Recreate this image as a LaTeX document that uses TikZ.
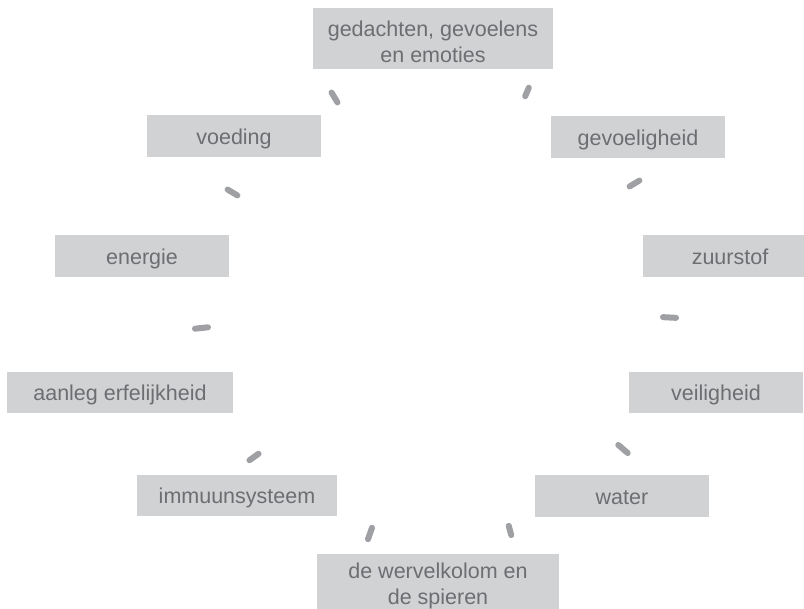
\documentclass[tikz,border=0pt]{standalone}
\usepackage{fontspec}
\setmainfont{Liberation Sans}
\definecolor{boxfill}{HTML}{D1D2D4}
\definecolor{boxtext}{HTML}{6D6E71}
\definecolor{dashcol}{HTML}{9FA0A3}
\begin{document}
\begin{tikzpicture}[x=1pt,y=-1pt,
  box/.style={fill=boxfill,text=boxtext,inner sep=0pt,align=center,
    font=\fontsize{21.5}{25.8}\selectfont,minimum height=42pt,
    text height=17pt,text depth=0pt},
  twoline/.style={minimum height=61pt,text height=47.4pt,text depth=0pt},
  gap/.style={draw=dashcol,line width=6pt,line cap=round,shorten >=3pt,shorten <=3pt}]
\useasboundingbox (0,0) rectangle (804,609);
\clip (0,0) rectangle (804,609);
\node[box,twoline,minimum width=240pt] (gedachten) at (433,38.5) {gedachten, gevoelens\\en emoties};
\node[box,minimum width=174pt] (voeding) at (234,136.5) {voeding};
\node[box,minimum width=174pt] (gevoeligheid) at (638,137) {gevoeligheid};
\node[box,minimum width=174pt] (energie) at (142,256) {energie};
\node[box,minimum width=174pt] (zuurstof) at (730,256) {zuurstof};
\node[box,minimum width=226pt,minimum height=41pt] (aanleg) at (120,392.5) {aanleg erfelijkheid};
\node[box,minimum width=174pt,minimum height=41pt] (veiligheid) at (716,392.5) {veiligheid};
\node[box,minimum width=200pt,minimum height=41pt] (immuun) at (237,495.5) {immuunsysteem};
\node[box,minimum width=174pt] (water) at (622,496) {water};
\node[box,twoline,minimum width=242pt,text height=41pt,text depth=0pt,
  font=\fontsize{21.5}{26.7}\selectfont] (wervel) at (438,584.5) {de wervelkolom en\\de spieren};
\coordinate (a1) at (330,90);  \coordinate (b1) at (339,105);
\coordinate (a2) at (530,85);  \coordinate (b2) at (524,99);
\coordinate (a3) at (225,188); \coordinate (b3) at (240,197);
\coordinate (a4) at (642,179); \coordinate (b4) at (627,188);
\coordinate (a5) at (192,329); \coordinate (b5) at (211,327);
\coordinate (a6) at (660,317); \coordinate (b6) at (679,318);
\coordinate (a7) at (261,452); \coordinate (b7) at (247,462);
\coordinate (a8) at (616,443); \coordinate (b8) at (630,455);
\coordinate (a9) at (373,525); \coordinate (b9) at (367,542);
\coordinate (a10) at (508,523); \coordinate (b10) at (512,538);
\foreach \i in {1,...,10} {\draw[gap] (a\i) -- (b\i);}
\end{tikzpicture}
\end{document}
